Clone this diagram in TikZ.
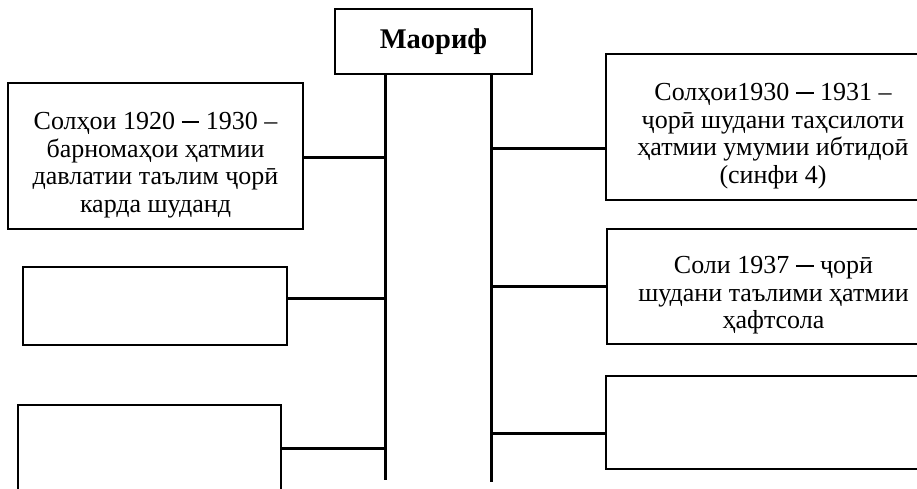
\documentclass[tikz,border=0pt]{standalone}
\usepackage{fontspec}
\setmainfont{Liberation Serif}
\newcommand\boxdash{\raisebox{0.27em}{\rule{0.68em}{0.055em}}}
\begin{document}
\begin{tikzpicture}[x=1pt,y=-1pt,
  box/.style={draw, line width=1.3pt, inner sep=0pt},
  txt/.style={align=center, inner sep=0pt, yshift=-9pt, font=\fontsize{26}{27.5}\selectfont},
  conn/.style={line width=3pt}]
\useasboundingbox (0,0) rectangle (917,488);
\clip (0,0) rectangle (917,488);
% top
\node[box, minimum width=197pt, minimum height=65pt, font=\fontsize{28.5}{30}\selectfont\bfseries] (top) at (433.5,41.5) {Маориф};
% trunks
\coordinate (lt) at (385,74);
\coordinate (lb) at (385,480);
\coordinate (rt) at (491,74);
\coordinate (rb) at (491,482);
\draw[conn] (lt) -- (lb);
\draw[conn] (rt) -- (rb);
% left boxes
\node[box, minimum width=295pt, minimum height=146pt] (l1) at (155.5,156) {};
\node[txt] (l1t) at (l1.center)
  {Солҳои 1920 \boxdash{} 1930 –\\барномаҳои ҳатмии\\давлатии таълим ҷорӣ\\карда шуданд};
\node[box, minimum width=264pt, minimum height=78pt] (l2) at (155,306) {};
\node[box, minimum width=263pt, minimum height=120pt] (l3) at (149.5,465) {};
% right boxes
\node[box, minimum width=334pt, minimum height=146pt] (r1) at (773,127) {};
\node[txt] (r1t) at (r1.center)
  {Солҳои1930 \boxdash{} 1931 –\\ҷорӣ шудани таҳсилоти\\ҳатмии умумии ибтидоӣ\\(синфи 4)};
\node[box, minimum width=333pt, minimum height=115pt] (r2) at (773.5,286.5) {};
\node[txt] (r2t) at (r2.center)
  {Соли 1937 \boxdash{} ҷорӣ\\шудани таълими ҳатмии\\ҳафтсола};
\node[box, minimum width=334pt, minimum height=93pt] (r3) at (773,422.5) {};
% junctions
\coordinate (j1) at (385,157);
\coordinate (j2) at (385,298);
\coordinate (j3) at (385,448);
\coordinate (k1) at (491,148);
\coordinate (k2) at (491,286);
\coordinate (k3) at (491,433);
\draw[conn] (j1) -- (j1 -| l1.east);
\draw[conn] (j2) -- ([xshift=-2pt]j2 -| l2.east);
\draw[conn] (j3) -- (j3 -| l3.east);
\draw[conn] (k1) -- (k1 -| r1.west);
\draw[conn] (k2) -- (k2 -| r2.west);
\draw[conn] (k3) -- (k3 -| r3.west);
\end{tikzpicture}
\end{document}
